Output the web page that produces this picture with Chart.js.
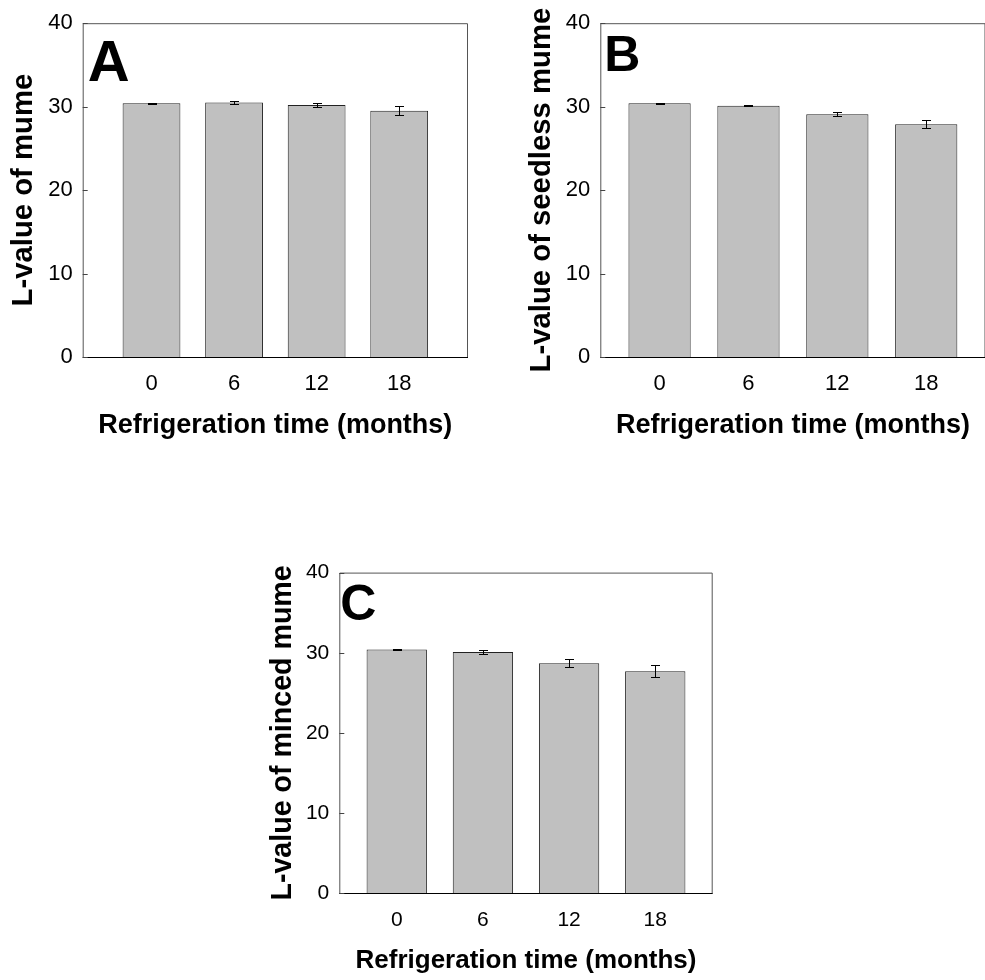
<!DOCTYPE html>
<html lang="en">
<head>
    <meta charset="UTF-8">
    <title>L-value during refrigeration</title>
    <script src="https://cdn.jsdelivr.net/npm/chart.js"></script>
    <style>
        body { margin: 0; background: #fff; overflow: hidden; width: 985px; height: 980px; position: relative; }
        canvas { position: absolute; }
    </style>
</head>
<body>
<canvas id="chartA" width="490" height="450" style="left:0;top:0"></canvas>
<canvas id="chartB" width="500" height="450" style="left:490px;top:0"></canvas>
<canvas id="chartC" width="480" height="430" style="left:255px;top:550px"></canvas>

<script>
    // refrigeration months and L-values (mean and error) for each product
    const months = [0, 6, 12, 18];
    const yTicks = [0, 10, 20, 30, 40];

    const mumeL = [30.4, 30.5, 30.2, 29.5];
    const mumeErr = [0.08, 0.22, 0.22, 0.52];

    const seedlessL = [30.4, 30.1, 29.1, 27.9];
    const seedlessErr = [0.08, 0.07, 0.28, 0.5];

    const mincedL = [30.4, 30.1, 28.7, 27.7];
    const mincedErr = [0.06, 0.2, 0.49, 0.74];

    const FONT = '"Liberation Sans", Arial, sans-serif';

    // box round the plot area, bottom axis in black, short inward ticks on y
    const framePlugin = {
        id: 'frame',
        afterDraw(chart) {
            const { ctx, chartArea: a, scales } = chart;
            ctx.save();
            ctx.lineWidth = 1;
            ctx.strokeStyle = '#555';
            ctx.beginPath();
            ctx.moveTo(a.left + 0.5, a.bottom);
            ctx.lineTo(a.left + 0.5, a.top + 0.5);
            ctx.lineTo(a.right - 0.5, a.top + 0.5);
            ctx.lineTo(a.right - 0.5, a.bottom);
            ctx.stroke();
            ctx.strokeStyle = '#000';
            ctx.beginPath();
            ctx.moveTo(a.left, Math.round(a.bottom) + 0.5);
            ctx.lineTo(a.right, Math.round(a.bottom) + 0.5);
            ctx.stroke();
            ctx.strokeStyle = '#444';
            scales.y.ticks.forEach(t => {
                const py = Math.round(scales.y.getPixelForValue(t.value)) + 0.5;
                ctx.beginPath();
                ctx.moveTo(a.left, py);
                ctx.lineTo(a.left + 5, py);
                ctx.stroke();
            });
            ctx.restore();
        }
    };

    // vertical error bars with caps
    const errorBarPlugin = {
        id: 'errorBars',
        afterDatasetsDraw(chart) {
            const { ctx, scales } = chart;
            const ds = chart.data.datasets[0];
            const meta = chart.getDatasetMeta(0);
            ctx.save();
            ctx.strokeStyle = '#000';
            ctx.lineWidth = 1;
            meta.data.forEach((bar, i) => {
                const v = ds.data[i].y, e = ds.errors[i];
                const x = Math.round(bar.x) + 0.5;
                const yHi = Math.round(scales.y.getPixelForValue(v + e)) + 0.5;
                const yLo = Math.round(scales.y.getPixelForValue(v - e)) + 0.5;
                ctx.beginPath();
                ctx.moveTo(x, yHi); ctx.lineTo(x, yLo);
                ctx.moveTo(x - 4.5, yHi); ctx.lineTo(x + 4.5, yHi);
                ctx.moveTo(x - 4.5, yLo); ctx.lineTo(x + 4.5, yLo);
                ctx.stroke();
            });
            ctx.restore();
        }
    };

    // big panel letter in the upper left corner
    const letterPlugin = {
        id: 'panelLetter',
        afterDraw(chart, args, opts) {
            const { ctx, chartArea: a } = chart;
            ctx.save();
            ctx.fillStyle = '#000';
            ctx.font = 'bold ' + opts.size + 'px ' + FONT;
            ctx.textBaseline = 'alphabetic';
            ctx.fillText(opts.text, a.left + opts.dx, a.top + opts.dy);
            ctx.restore();
        }
    };

    function makePanel(id, p) {
        new Chart(document.getElementById(id), {
            type: 'bar',
            data: {
                datasets: [{
                    data: months.map((m, i) => ({ x: m, y: p.values[i] })),
                    errors: p.errors,
                    backgroundColor: '#c0c0c0',
                    borderColor: '#222',
                    borderWidth: 1,
                    barPercentage: 0.7,
                    categoryPercentage: 1
                }]
            },
            options: {
                responsive: false,
                animation: false,
                devicePixelRatio: 1,
                layout: { padding: p.padding },
                plugins: {
                    legend: { display: false },
                    tooltip: { enabled: false },
                    panelLetter: p.letter
                },
                scales: {
                    x: {
                        type: 'linear',
                        offset: false,
                        min: p.xMin,
                        max: p.xMax,
                        grid: { display: false, drawTicks: false, offset: false },
                        border: { display: false },
                        afterBuildTicks: s => { s.ticks = months.map(v => ({ value: v })); },
                        afterFit: s => { s.height = p.xHeight; },
                        ticks: {
                            padding: 14,
                            color: '#000',
                            font: { family: FONT, size: p.tickSize }
                        },
                        title: {
                            display: true,
                            text: 'Refrigeration time (months)',
                            color: '#000',
                            font: { family: FONT, size: p.xTitleSize, weight: 'bold' },
                            padding: { top: 0, bottom: p.xTitlePad }
                        }
                    },
                    y: {
                        min: 0,
                        max: 40,
                        grid: { display: false, drawTicks: false },
                        border: { display: false },
                        afterBuildTicks: s => { s.ticks = yTicks.map(v => ({ value: v })); },
                        afterFit: s => { s.width = p.yWidth; },
                        ticks: {
                            padding: 10,
                            color: '#000',
                            font: { family: FONT, size: p.tickSize }
                        },
                        title: {
                            display: true,
                            text: p.yTitle,
                            color: '#000',
                            font: { family: FONT, size: p.yTitleSize, weight: 'bold' },
                            padding: { top: 6, bottom: 0 }
                        }
                    }
                }
            },
            plugins: [framePlugin, errorBarPlugin, letterPlugin]
        });
    }

    makePanel('chartA', {
        values: mumeL, errors: mumeErr,
        yTitle: 'L-value of mume',
        xMin: -5, xMax: 23,
        padding: { left: 0, top: 20.7, right: 22, bottom: 0 },
        yWidth: 82.7, xHeight: 93,
        tickSize: 22, xTitleSize: 27, xTitlePad: 8, yTitleSize: 29.3,
        letter: { text: 'A', size: 58, dx: 5, dy: 57.3 }
    });

    makePanel('chartB', {
        values: seedlessL, errors: seedlessErr,
        yTitle: 'L-value of seedless mume',
        xMin: -4, xMax: 22,
        padding: { left: 28.2, top: 20.7, right: 4.5, bottom: 0 },
        yWidth: 82.1, xHeight: 93,
        tickSize: 22, xTitleSize: 27, xTitlePad: 8, yTitleSize: 29.3,
        letter: { text: 'B', size: 50, dx: 4, dy: 47.6 }
    });

    makePanel('chartC', {
        values: mincedL, errors: mincedErr,
        yTitle: 'L-value of minced mume',
        xMin: -4, xMax: 22,
        padding: { left: 4.7, top: 18.7, right: 22.3, bottom: 0 },
        yWidth: 79.6, xHeight: 86.7,
        tickSize: 21, xTitleSize: 26, xTitlePad: 4, yTitleSize: 28.6,
        letter: { text: 'C', size: 50, dx: 1, dy: 47.3 }
    });
</script>
</body>
</html>
